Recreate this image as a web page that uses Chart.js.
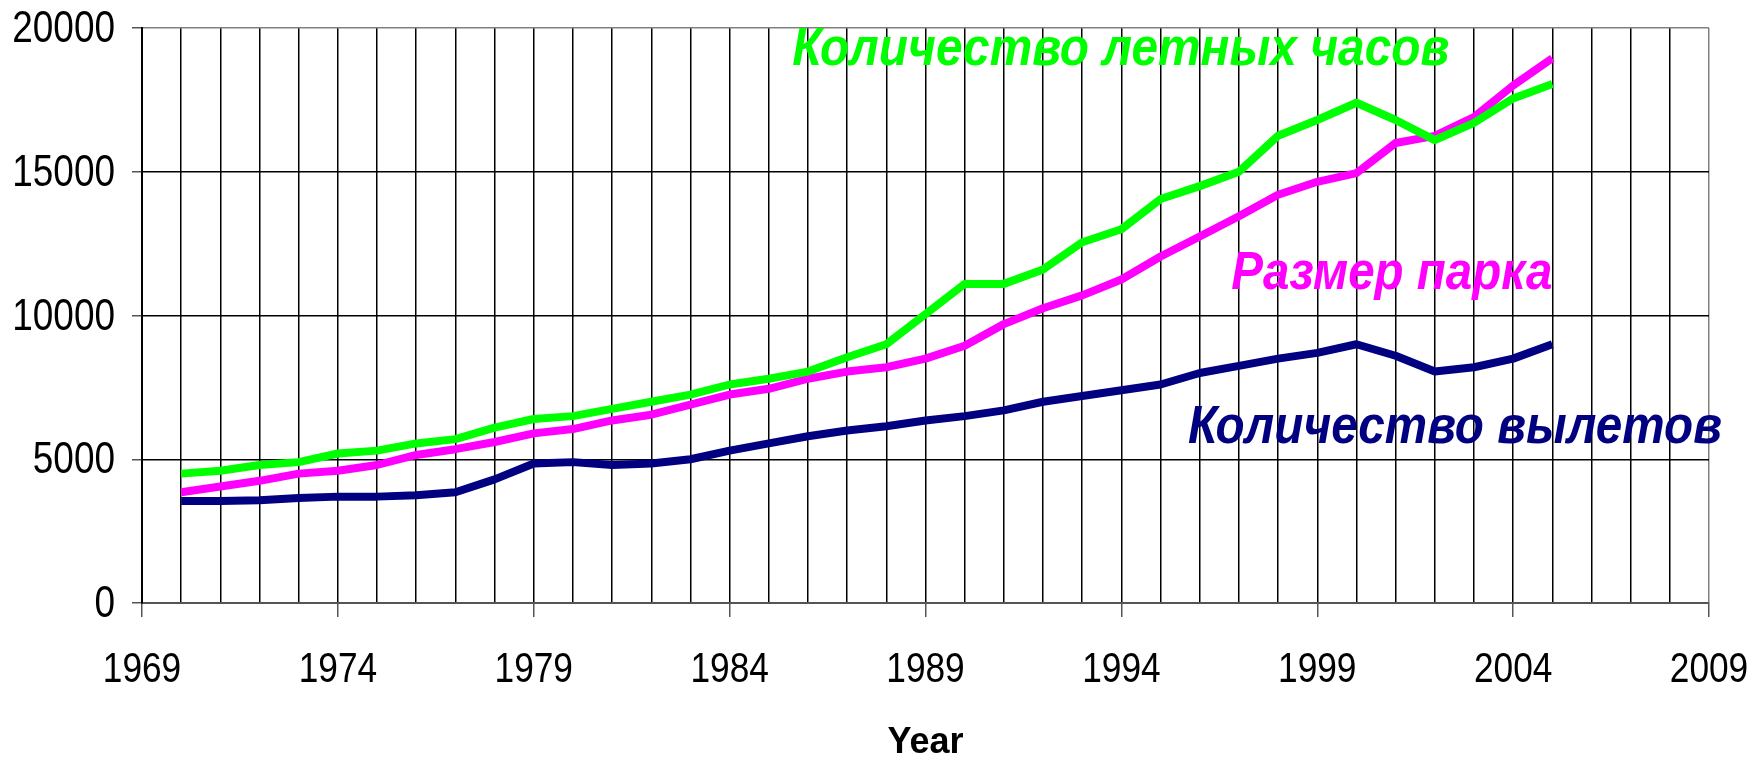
<!DOCTYPE html>
<html>
<head>
<meta charset="utf-8">
<script src="https://cdn.jsdelivr.net/npm/chart.js@4.4.1/dist/chart.umd.min.js"></script>
<style>
  html, body { margin: 0; padding: 0; background: #fff; }
  canvas { display: block; }
</style>
</head>
<body>
<canvas id="myChart" width="1752" height="761"></canvas>
<script>
const years = [1970, 1971, 1972, 1973, 1974, 1975, 1976, 1977, 1978, 1979,
               1980, 1981, 1982, 1983, 1984, 1985, 1986, 1987, 1988, 1989,
               1990, 1991, 1992, 1993, 1994, 1995, 1996, 1997, 1998, 1999,
               2000, 2001, 2002, 2003, 2004, 2005];

// Количество летных часов
const flightHours = [4500, 4600, 4800, 4900, 5200, 5300, 5550, 5700, 6100, 6400,
                     6500, 6750, 7000, 7250, 7600, 7800, 8050, 8550, 9000, 10050,
                     11100, 11100, 11600, 12550, 13000, 14050, 14500, 15000, 16250, 16800,
                     17400, 16800, 16100, 16700, 17550, 18050];

// Размер парка
const fleetSize = [3850, 4050, 4250, 4500, 4600, 4800, 5150, 5350, 5600, 5900,
                   6050, 6350, 6550, 6900, 7250, 7450, 7800, 8050, 8200, 8500,
                   8950, 9700, 10250, 10700, 11250, 12050, 12750, 13450, 14200, 14650,
                   14950, 16000, 16250, 16900, 18000, 18950];

// Количество вылетов
const departures = [3550, 3550, 3570, 3650, 3700, 3700, 3750, 3850, 4300, 4850,
                    4900, 4800, 4850, 5000, 5300, 5550, 5800, 6000, 6150, 6350,
                    6500, 6700, 7000, 7200, 7400, 7600, 8000, 8250, 8500, 8700,
                    9000, 8600, 8050, 8200, 8500, 9000];

const xTickLabels = [1969, 1974, 1979, 1984, 1989, 1994, 1999, 2004, 2009];
const yTickLabels = [0, 5000, 10000, 15000, 20000];

function points(values) {
  return years.map((y, i) => ({ x: y, y: values[i] }));
}

// узкого шрифта нет, поэтому подписи осей сжимаются через maxWidth
function narrowText(ctx, text, x, y, squeeze) {
  ctx.fillText(text, x, y, ctx.measureText(text).width * squeeze);
}

const axisLabels = {
  id: 'axisLabels',
  afterDraw(chart) {
    const { ctx, scales: { x, y } } = chart;
    ctx.save();
    ctx.fillStyle = '#000';
    ctx.textBaseline = 'middle';

    ctx.font = "44px 'Liberation Sans', Arial, sans-serif";
    ctx.textAlign = 'right';
    yTickLabels.forEach(v => narrowText(ctx, String(v), y.right - 27, y.getPixelForValue(v) + 2, 0.84));

    ctx.font = "43px 'Liberation Sans', Arial, sans-serif";
    ctx.textAlign = 'center';
    xTickLabels.forEach(v => narrowText(ctx, String(v), x.getPixelForValue(v), x.top + 67, 0.82));
    ctx.restore();
  }
};

// подписи серий прямо на графике
const seriesLabels = {
  id: 'seriesLabels',
  afterDatasetsDraw(chart) {
    const { ctx, scales: { x, y } } = chart;
    const items = [
      { text: 'Количество летных часов', color: '#00ff00', year: 1985.6, value: 19230, align: 'left', width: 657 },
      { text: 'Размер парка', color: '#ff00ff', year: 2005.0, value: 11440, align: 'right', width: 321 },
      { text: 'Количество вылетов', color: '#000080', year: 1995.7, value: 6090, align: 'left', width: 534 }
    ];
    ctx.save();
    ctx.font = "italic bold 53px 'Liberation Sans', Arial, sans-serif";
    ctx.textBaseline = 'middle';
    items.forEach(it => {
      ctx.fillStyle = it.color;
      ctx.textAlign = it.align;
      ctx.fillText(it.text, x.getPixelForValue(it.year), y.getPixelForValue(it.value), it.width);
    });
    ctx.restore();
  }
};

new Chart(document.getElementById('myChart'), {
  type: 'line',
  data: {
    datasets: [
      { label: 'Количество летных часов', data: points(flightHours), borderColor: '#00ff00' },
      { label: 'Размер парка', data: points(fleetSize), borderColor: '#ff00ff' },
      { label: 'Количество вылетов', data: points(departures), borderColor: '#000080' }
    ]
  },
  options: {
    responsive: false,
    animation: false,
    devicePixelRatio: 1,
    layout: { padding: { left: 0, top: 28, right: 43, bottom: 0 } },
    elements: {
      point: { radius: 0 },
      line: { borderWidth: 8, tension: 0, borderJoinStyle: 'round', borderCapStyle: 'butt' }
    },
    plugins: {
      legend: { display: false },
      tooltip: { enabled: false }
    },
    scales: {
      x: {
        type: 'linear',
        min: 1969,
        max: 2009,
        afterFit: (scale) => { scale.height = 158; },
        ticks: { stepSize: 1, autoSkip: false, display: false },
        grid: {
          color: (ctx) => ctx.tick && ctx.tick.value === 2009 ? '#808080' : '#000',
          lineWidth: 1.5,
          tickLength: 14,
          tickColor: (ctx) => ctx.tick && xTickLabels.includes(ctx.tick.value) ? '#555' : 'rgba(0,0,0,0)',
          tickWidth: 1.5
        },
        border: { color: '#555', width: 2 },
        title: {
          display: true,
          text: 'Year',
          color: '#000',
          padding: 0,
          font: { family: "'Liberation Sans', Arial, sans-serif", size: 36, weight: 'bold', lineHeight: 1 }
        }
      },
      y: {
        min: 0,
        max: 20000,
        afterFit: (scale) => { scale.width = 142; },
        afterBuildTicks: (scale) => { scale.ticks = yTickLabels.map(v => ({ value: v })); },
        ticks: { display: false },
        grid: {
          color: (ctx) => ctx.tick && ctx.tick.value === 20000 ? '#808080' : '#000',
          lineWidth: 1.5,
          tickLength: 10,
          tickColor: '#555'
        },
        border: { color: '#000', width: 2 }
      }
    }
  },
  plugins: [seriesLabels, axisLabels]
});
</script>
</body>
</html>
